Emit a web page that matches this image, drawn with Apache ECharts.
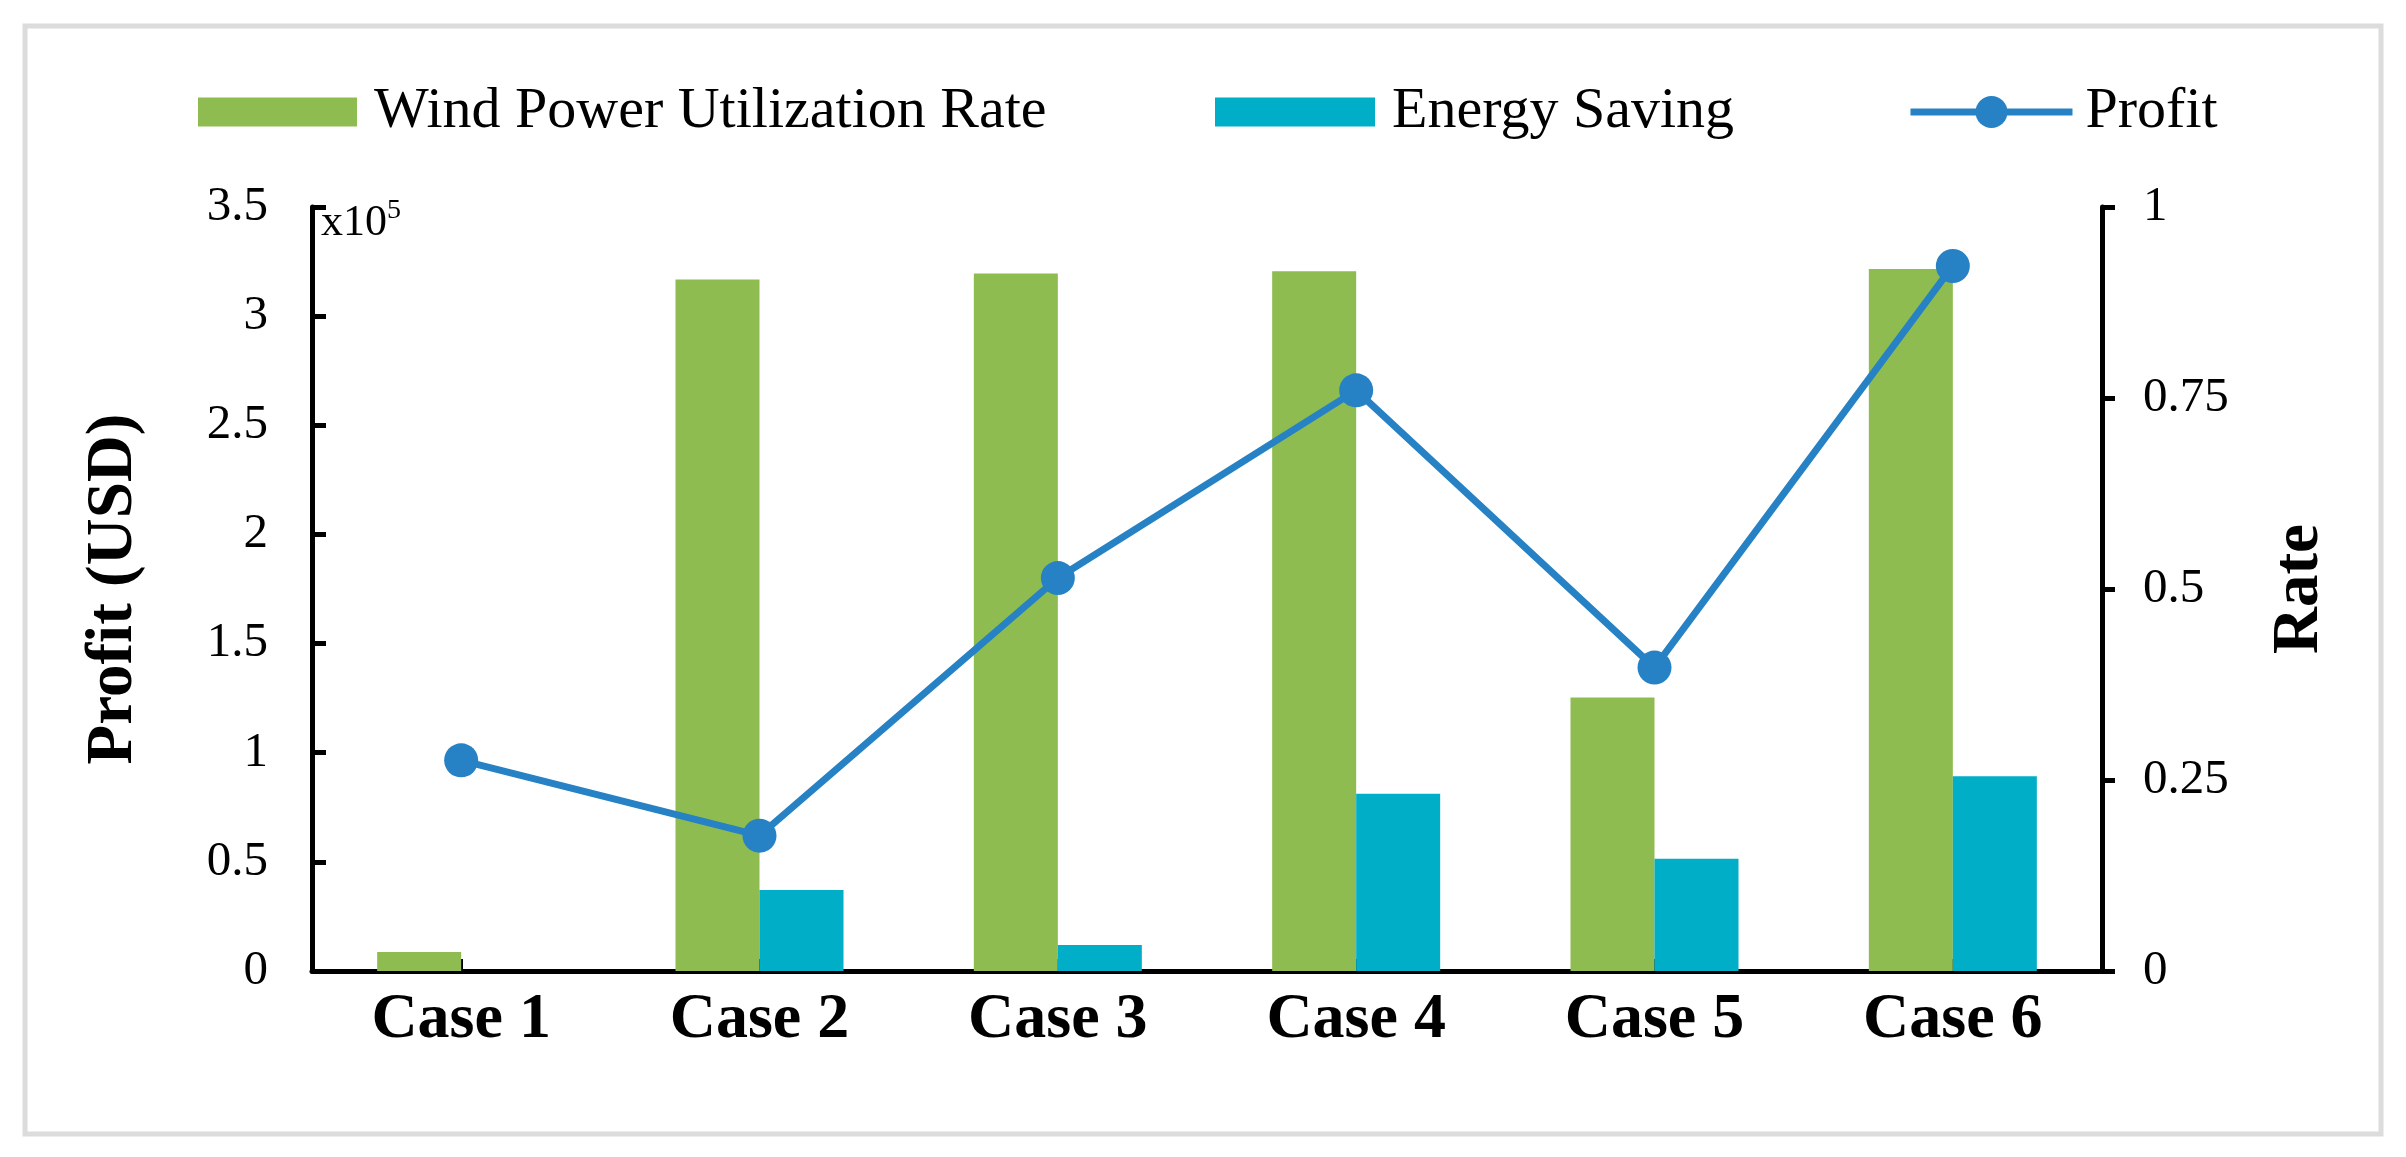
<!DOCTYPE html>
<html>
<head>
<meta charset="utf-8">
<script src="https://cdn.jsdelivr.net/npm/echarts@6/dist/echarts.min.js"></script>
<style>
html,body{margin:0;padding:0;background:#fff;}
#chart{width:2406px;height:1157px;}
</style>
</head>
<body>
<div id="chart"></div>
<script>
const categories = ['Case 1', 'Case 2', 'Case 3', 'Case 4', 'Case 5', 'Case 6'];
const windRate = [0.025, 0.905, 0.913, 0.916, 0.358, 0.919];
const energySaving = [0, 0.106, 0.034, 0.232, 0.147, 0.255];
const profit = [0.965, 0.62, 1.80, 2.66, 1.39, 3.23];
const leftTicks = { min: 0, max: 3.5, interval: 0.5 };
const rightTicks = { min: 0, max: 1, interval: 0.25 };

const FONT = '"Liberation Serif", "Times New Roman", serif';
const GREEN = '#8EBC50';
const CYAN = '#00AEC7';
const BLUE = '#2682C4';

const chart = echarts.init(document.getElementById('chart'));
const legendText = { fontFamily: FONT, fontSize: 58, color: '#000', padding: [0, 0, 0, 12] };

chart.setOption({
  animation: false,
  backgroundColor: '#fff',
  legend: [
    { data: [{ name: 'Wind Power Utilization Rate', icon: 'rect' }], left: 198, top: 83, padding: 0, itemWidth: 159, itemHeight: 29, textStyle: legendText },
    { data: [{ name: 'Energy Saving', icon: 'rect' }], left: 1215, top: 83, padding: 0, itemWidth: 160, itemHeight: 29, textStyle: legendText },
    { data: ['Profit'], left: 1907, top: 83, padding: 0, itemWidth: 162, itemHeight: 40,
      lineStyle: { width: 7 },
      textStyle: Object.assign({}, legendText, { padding: [0, 0, 0, 8] }) }
  ],
  grid: { left: 312, right: 304, top: 207, bottom: 186, outerBoundsMode: 'none' },
  xAxis: {
    type: 'category',
    data: categories,
    boundaryGap: true,
    axisLine: { lineStyle: { color: '#000', width: 5 } },
    axisTick: { show: true, inside: true, alignWithLabel: true, length: 12, lineStyle: { color: '#000', width: 4 } },
    axisLabel: { fontFamily: FONT, fontSize: 64, fontWeight: 'bold', color: '#000', margin: 17 },
    splitLine: { show: false }
  },
  yAxis: [
    {
      type: 'value', min: leftTicks.min, max: leftTicks.max, interval: leftTicks.interval,
      name: 'Profit (USD)', nameLocation: 'middle', nameGap: 165, nameRotate: 90,
      nameTextStyle: { fontFamily: FONT, fontSize: 65, fontWeight: 'bold', color: '#000' },
      axisLine: { show: true, lineStyle: { color: '#000', width: 5 } },
      axisTick: { show: true, inside: true, length: 14, lineStyle: { color: '#000', width: 5 } },
      axisLabel: { fontFamily: FONT, fontSize: 49, color: '#000', margin: 44 },
      splitLine: { show: false }
    },
    {
      type: 'value', min: rightTicks.min, max: rightTicks.max, interval: rightTicks.interval,
      position: 'right',
      name: 'Rate', nameLocation: 'middle', nameGap: 166, nameRotate: 90,
      nameTextStyle: { fontFamily: FONT, fontSize: 65, fontWeight: 'bold', color: '#000' },
      axisLine: { show: true, lineStyle: { color: '#000', width: 5 } },
      axisTick: { show: true, inside: false, length: 13, lineStyle: { color: '#000', width: 5 } },
      axisLabel: { fontFamily: FONT, fontSize: 49, color: '#000', margin: 41 },
      splitLine: { show: false }
    }
  ],
  series: [
    { name: 'Wind Power Utilization Rate', type: 'bar', yAxisIndex: 1, data: windRate, barWidth: 84, barGap: '0%', itemStyle: { color: GREEN } },
    { name: 'Energy Saving', type: 'bar', yAxisIndex: 1, data: energySaving, barWidth: 84, barGap: '0%', itemStyle: { color: CYAN } },
    { name: 'Profit', type: 'line', yAxisIndex: 0, data: profit, symbol: 'circle', symbolSize: 34,
      lineStyle: { color: BLUE, width: 7 }, itemStyle: { color: BLUE }, z: 5 }
  ],
  graphic: [
    { type: 'rect', shape: { x: 25, y: 26, width: 2356, height: 1108 }, style: { fill: 'none', stroke: '#DCDCDC', lineWidth: 5 }, silent: true },
    { type: 'text', x: 321, y: 223, style: { text: 'x10', fontFamily: FONT, fontSize: 44, fill: '#000', verticalAlign: 'middle', align: 'left' }, silent: true },
    { type: 'text', x: 387, y: 211, style: { text: '5', fontFamily: FONT, fontSize: 28, fill: '#000', verticalAlign: 'middle', align: 'left' }, silent: true }
  ]
});
</script>
</body>
</html>
